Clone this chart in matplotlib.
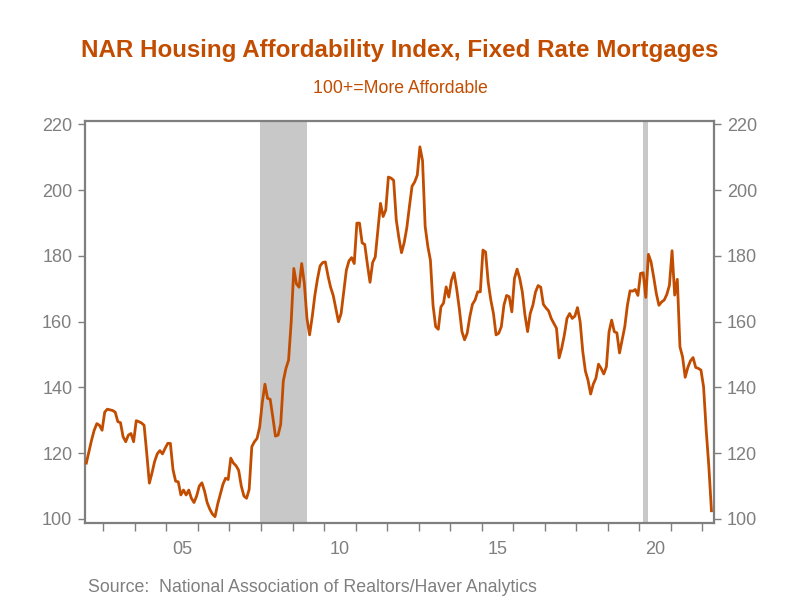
import matplotlib.pyplot as plt
import numpy as np

plt.rcParams['font.family'] = ['Liberation Sans', 'DejaVu Sans']

# NAR Housing Affordability Index, monthly, Jun 2002 - Apr 2022
start_year, start_month = 2002, 6
hai = [
    # 2002 (Jun-Dec)
    117, 120.5, 124, 127, 129, 128.5, 127,
    # 2003
    132.5, 133.4, 133.2, 133, 132.5, 129.6, 129.3, 125, 123.5, 125.5, 126, 123.5,
    # 2004
    129.9, 129.6, 129.2, 128.5, 120, 110.9, 114, 117.5, 119.8, 120.8, 119.8, 121.5,
    # 2005
    123, 123, 115, 111.5, 111.3, 107.3, 108.8, 107.3, 108.8, 106.3, 105, 107,
    # 2006
    110, 111, 108.5, 105, 103, 101.5, 100.7, 104.5, 107.5, 110.5, 112.4, 112,
    # 2007
    118.5, 117, 116.2, 114.8, 110, 107, 106.3, 109, 122, 123.5, 124.5, 128,
    # 2008
    135.5, 141, 136.7, 136.4, 131, 125.2, 125.5, 128.8, 142, 145.8, 148.3, 160,
    # 2009
    176.2, 171.5, 170.5, 177.7, 171.6, 161, 156, 161.5, 168, 173, 177, 178,
    # 2010
    178.2, 174, 170.5, 168, 164, 160, 162.5, 169, 175.7, 178.5, 179.5, 177.7,
    # 2011
    190, 190, 184, 183.5, 177.5, 172, 178, 179.7, 188, 196, 192, 194,
    # 2012
    204, 203.7, 203, 191, 185.5, 181, 184, 188.5, 195, 201.2, 202.5, 204.6,
    # 2013
    213.2, 209, 189, 183, 178.7, 165, 158.5, 157.7, 164.5, 165.7, 170.6, 167.5,
    # 2014
    172.6, 174.9, 170, 164, 157, 154.5, 156.5, 161.5, 165.3, 166.6, 169.1, 169.1,
    # 2015
    181.8, 181.2, 172, 166.6, 162.5, 156, 156.5, 158.5, 165.1, 168, 167.6, 163,
    # 2016
    173.2, 176, 173.2, 169, 162, 157, 162.5, 165, 169, 171, 170.5, 165.3,
    # 2017
    164.2, 163.3, 161, 159.5, 158, 149, 152, 156, 161, 162.5, 161, 161.7,
    # 2018
    164.3, 160, 151, 145, 142.2, 138, 141, 142.8, 147.1, 145.8, 144.1, 146.3,
    # 2019
    156.9, 160.5, 157, 156.6, 150.5, 154.5, 158.5, 165, 169.4, 169.3, 169.8, 168,
    # 2020
    174.7, 174.9, 167.4, 180.5, 178.2, 173.6, 168.6, 165, 166, 166.6, 168.3, 171.1,
    # 2021
    181.6, 168.1, 172.9, 152.4, 149.3, 143.1, 146.1, 148.1, 149.1, 146.1, 145.8, 145.3,
    # 2022 (Jan-Apr)
    140.2, 127, 116, 102.5,
]

# recessions (peak month, trough month)
recessions = [(2007, 12, 2009, 6), (2020, 2, 2020, 4)]

year_labels = ['05', '10', '15', '20']
label_years = [2005, 2010, 2015, 2020]
yticks = [100, 120, 140, 160, 180, 200, 220]

orange = '#C24D00'
gray = '#7F7F7F'


def mid_month(y, m):
    return y + (m - 0.5) / 12


t = np.array([mid_month(start_year, start_month + i) for i in range(len(hai))])

fig = plt.figure(figsize=(8, 6), dpi=100)
ax = fig.add_axes([0.106, 0.129, 0.787, 0.669])

for y0, m0, y1, m1 in recessions:
    ax.axvspan(mid_month(y0, m0), mid_month(y1, m1), color='#C8C8C8', lw=0, zorder=0)

ax.plot(t, hai, color=orange, lw=2.0, zorder=3)

ax.set_xlim(2002.41, 2022.385)
ax.set_ylim(98.9, 221)

# year boundary ticks, labels centred in the year
ax.set_xticks(range(2003, 2023))
ax.set_xticklabels([])
ax.set_xticks([y + 0.5 for y in label_years], minor=True)
ax.set_xticklabels(year_labels, minor=True)
ax.tick_params(axis='x', which='major', direction='out', length=6, width=1, color=gray)
ax.tick_params(axis='x', which='minor', length=0, labelsize=13, labelcolor=gray, pad=13)

ax.set_yticks(yticks)
ax.tick_params(axis='y', which='both', direction='out', length=5, width=1, color=gray,
               labelsize=13, labelcolor=gray, left=True, right=True,
               labelleft=True, labelright=True, pad=4)

for s in ax.spines.values():
    s.set_color(gray)
    s.set_linewidth(1.6)

fig.text(0.5, 0.915, 'NAR Housing Affordability Index, Fixed Rate Mortgages',
         ha='center', va='center', color=orange, fontsize=17.4, fontweight='bold')
fig.text(0.5, 0.853, '100+=More Affordable', ha='center', va='center',
         color=orange, fontsize=12.7)
fig.text(0.11, 0.021, 'Source:  National Association of Realtors/Haver Analytics',
         ha='left', va='center', color=gray, fontsize=12.8)

fig.savefig('out.png', dpi=100)
